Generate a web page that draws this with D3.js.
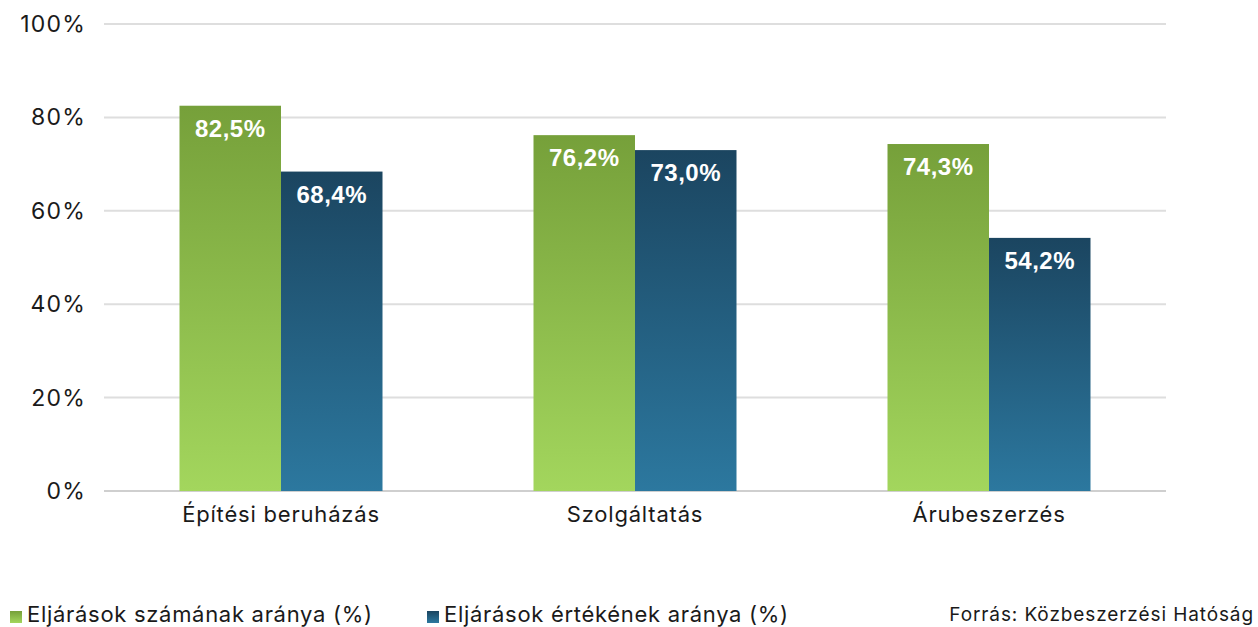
<!DOCTYPE html>
<html>
<head>
<meta charset="utf-8">
<script src="https://cdn.jsdelivr.net/npm/d3@7"></script>
<style>
  body { margin: 0; background: #fff; }
  svg { display: block; font-family: Inter, "Noto Sans", sans-serif; }
</style>
</head>
<body>
<script>
// chart data
var categories = ["Építési beruházás", "Szolgáltatás", "Árubeszerzés"];
var seriesNames = ["Eljárások számának aránya (%)", "Eljárások értékének aránya (%)"];
var countShare = [82.5, 76.2, 74.3];
var valueShare = [68.4, 73.0, 54.2];
var yTicks = [0, 20, 40, 60, 80, 100];
var sourceText = "Forrás: Közbeszerzési Hatóság";

var width = 1258, height = 627;
var margin = {top: 24, right: 92, bottom: 136, left: 104};

var svg = d3.select("body").append("svg")
    .attr("width", width)
    .attr("height", height);

var defs = svg.append("defs");
var grads = [["gGreen", "#76a03a", "#a3d65d"], ["gBlue", "#1b4560", "#2c789f"]];
grads.forEach(function(g){
    var lg = defs.append("linearGradient")
        .attr("id", g[0])
        .attr("x1", 0).attr("y1", 0).attr("x2", 0).attr("y2", 1);
    lg.append("stop").attr("offset", "0%").attr("stop-color", g[1]);
    lg.append("stop").attr("offset", "100%").attr("stop-color", g[2]);
});

var x0 = d3.scaleBand()
    .domain(categories)
    .range([margin.left, width - margin.right])
    .paddingInner(0)
    .paddingOuter(0);

var groupWidth = 203;
var x1 = d3.scaleBand()
    .domain([0, 1])
    .range([0, groupWidth]);

var y = d3.scaleLinear()
    .domain([0, 100])
    .range([height - margin.bottom, margin.top]);

//gridlines
svg.append("g")
    .selectAll("line")
    .data(yTicks)
    .enter()
    .append("line")
    .attr("x1", margin.left)
    .attr("x2", width - margin.right)
    .attr("y1", function(d){ return y(d); })
    .attr("y2", function(d){ return y(d); })
    .attr("stroke", function(d){ return d === 0 ? "#cfcfcf" : "#dedede"; })
    .attr("stroke-width", 2);

//y tick labels
svg.append("g")
    .selectAll("text")
    .data(yTicks)
    .enter()
    .append("text")
    .attr("x", 86)
    .attr("y", function(d){ return y(d) + 8; })
    .attr("text-anchor", "end")
    .attr("font-size", 23)
    .attr("letter-spacing", 1.2)
    .attr("fill", "#1a1a1a")
    .text(function(d){ return d + "%"; });

var rows = categories.map(function(c, i){
    return {cat: c, vals: [countShare[i], valueShare[i]]};
});

var groups = svg.selectAll(".grp")
    .data(rows)
    .enter()
    .append("g")
    .attr("class", "grp")
    .attr("transform", function(d){
        return "translate(" + (x0(d.cat) + (x0.bandwidth() - groupWidth) / 2) + ",0)";
    });

groups.selectAll("rect")
    .data(function(d){ return d.vals; })
    .enter()
    .append("rect")
    .attr("x", function(d, i){ return x1(i); })
    .attr("width", x1.bandwidth())
    .attr("y", function(d){ return y(d); })
    .attr("height", function(d){ return y(0) - y(d); })
    .attr("fill", function(d, i){ return i === 0 ? "url(#gGreen)" : "url(#gBlue)"; });

groups.selectAll(".val")
    .data(function(d){ return d.vals; })
    .enter()
    .append("text")
    .attr("class", "val")
    .attr("x", function(d, i){ return x1(i) + x1.bandwidth() / 2; })
    .attr("y", function(d){ return y(d) + 31; })
    .attr("text-anchor", "middle")
    .attr("font-family", "'Liberation Sans', Arial, sans-serif")
    .attr("font-weight", "bold")
    .attr("font-size", 24)
    .attr("letter-spacing", 0.5)
    .attr("fill", "#fff")
    .text(function(d){ return d.toFixed(1).replace(".", ",") + "%"; });

//category labels
svg.append("g")
    .selectAll("text")
    .data(categories)
    .enter()
    .append("text")
    .attr("x", function(d){ return x0(d) + x0.bandwidth() / 2; })
    .attr("y", 522)
    .attr("text-anchor", "middle")
    .attr("font-size", 22)
    .attr("letter-spacing", 0.8)
    .attr("fill", "#1a1a1a")
    .text(function(d){ return d; });

//legend
var legendX = [10, 427];
var legend = svg.selectAll(".leg")
    .data(seriesNames)
    .enter()
    .append("g")
    .attr("class", "leg")
    .attr("transform", function(d, i){ return "translate(" + legendX[i] + ",611)"; });
legend.append("rect")
    .attr("width", 12)
    .attr("height", 12)
    .attr("fill", function(d, i){ return i === 0 ? "url(#gGreen)" : "url(#gBlue)"; });
legend.append("text")
    .attr("x", 17)
    .attr("y", 11)
    .attr("font-size", 22)
    .attr("letter-spacing", 0.7)
    .attr("fill", "#1a1a1a")
    .text(function(d){ return d; });

svg.append("text")
    .attr("x", 1254)
    .attr("y", 621)
    .attr("text-anchor", "end")
    .attr("font-size", 19)
    .attr("letter-spacing", 0.9)
    .attr("fill", "#1a1a1a")
    .text(sourceText);
</script>
</body>
</html>
